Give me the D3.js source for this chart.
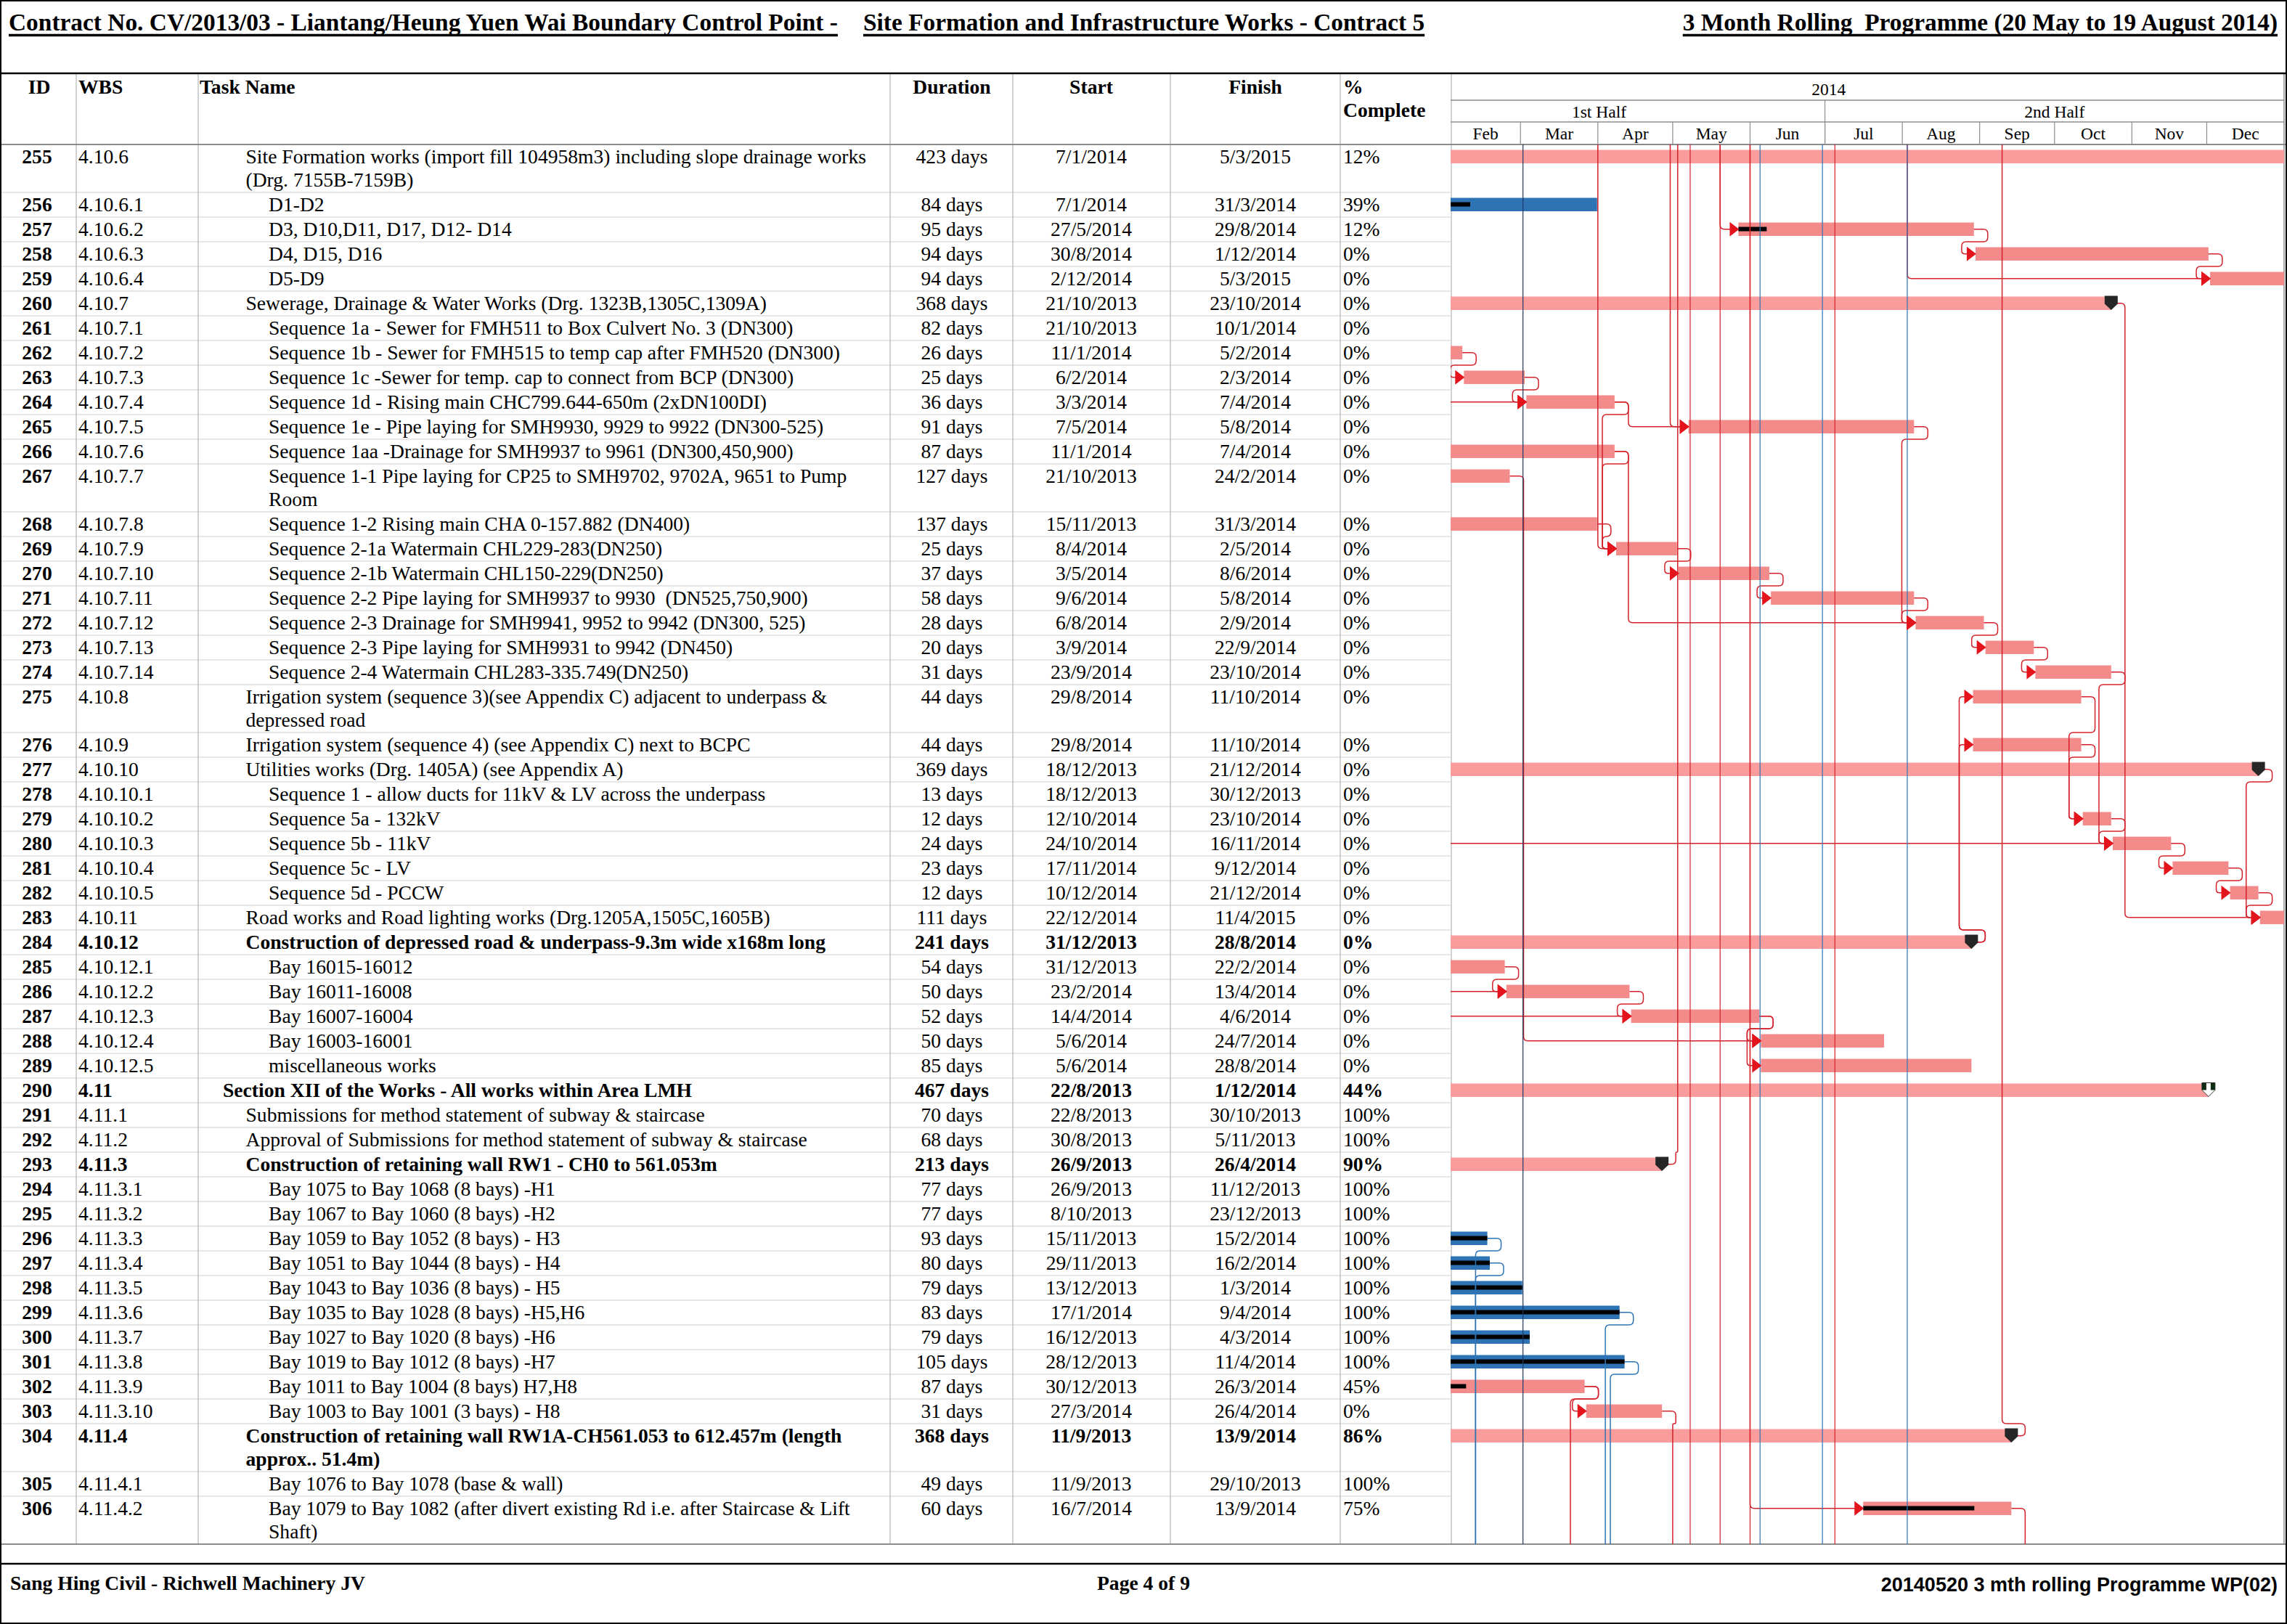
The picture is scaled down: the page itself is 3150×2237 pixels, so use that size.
<!DOCTYPE html>
<html>
<head>
<meta charset="utf-8">
<script src="https://cdn.jsdelivr.net/npm/d3@7"></script>
<style>
  body { margin: 0; background: #fff; }
  svg { display: block; }
  text { font-family: "Liberation Serif", "Times New Roman", serif; fill: #000; white-space: pre; }
</style>
</head>
<body>
<svg id="chart"></svg>
<script>
// ---- table data ----
const ids = [255,256,257,258,259,260,261,262,263,264,265,266,267,268,269,270,271,272,273,274,275,276,277,278,279,280,281,282,283,284,285,286,287,288,289,290,291,292,293,294,295,296,297,298,299,300,301,302,303,304,305,306]
const wbs = ['4.10.6','4.10.6.1','4.10.6.2','4.10.6.3','4.10.6.4','4.10.7','4.10.7.1','4.10.7.2','4.10.7.3','4.10.7.4','4.10.7.5','4.10.7.6','4.10.7.7','4.10.7.8','4.10.7.9','4.10.7.10','4.10.7.11','4.10.7.12','4.10.7.13','4.10.7.14','4.10.8','4.10.9','4.10.10','4.10.10.1','4.10.10.2','4.10.10.3','4.10.10.4','4.10.10.5','4.10.11','4.10.12','4.10.12.1','4.10.12.2','4.10.12.3','4.10.12.4','4.10.12.5','4.11','4.11.1','4.11.2','4.11.3','4.11.3.1','4.11.3.2','4.11.3.3','4.11.3.4','4.11.3.5','4.11.3.6','4.11.3.7','4.11.3.8','4.11.3.9','4.11.3.10','4.11.4','4.11.4.1','4.11.4.2']
const names = [
  'Site Formation works (import fill 104958m3) including slope drainage works\n(Drg. 7155B-7159B)',
  'D1-D2',
  'D3, D10,D11, D17, D12- D14',
  'D4, D15, D16',
  'D5-D9',
  'Sewerage, Drainage & Water Works (Drg. 1323B,1305C,1309A)',
  'Sequence 1a - Sewer for FMH511 to Box Culvert No. 3 (DN300)',
  'Sequence 1b - Sewer for FMH515 to temp cap after FMH520 (DN300)',
  'Sequence 1c -Sewer for temp. cap to connect from BCP (DN300)',
  'Sequence 1d - Rising main CHC799.644-650m (2xDN100DI)',
  'Sequence 1e - Pipe laying for SMH9930, 9929 to 9922 (DN300-525)',
  'Sequence 1aa -Drainage for SMH9937 to 9961 (DN300,450,900)',
  'Sequence 1-1 Pipe laying for CP25 to SMH9702, 9702A, 9651 to Pump\nRoom',
  'Sequence 1-2 Rising main CHA 0-157.882 (DN400)',
  'Sequence 2-1a Watermain CHL229-283(DN250)',
  'Sequence 2-1b Watermain CHL150-229(DN250)',
  'Sequence 2-2 Pipe laying for SMH9937 to 9930  (DN525,750,900)',
  'Sequence 2-3 Drainage for SMH9941, 9952 to 9942 (DN300, 525)',
  'Sequence 2-3 Pipe laying for SMH9931 to 9942 (DN450)',
  'Sequence 2-4 Watermain CHL283-335.749(DN250)',
  'Irrigation system (sequence 3)(see Appendix C) adjacent to underpass &\ndepressed road',
  'Irrigation system (sequence 4) (see Appendix C) next to BCPC',
  'Utilities works (Drg. 1405A) (see Appendix A)',
  'Sequence 1 - allow ducts for 11kV & LV across the underpass',
  'Sequence 5a - 132kV',
  'Sequence 5b - 11kV',
  'Sequence 5c - LV',
  'Sequence 5d - PCCW',
  'Road works and Road lighting works (Drg.1205A,1505C,1605B)',
  'Construction of depressed road & underpass-9.3m wide x168m long',
  'Bay 16015-16012',
  'Bay 16011-16008',
  'Bay 16007-16004',
  'Bay 16003-16001',
  'miscellaneous works',
  'Section XII of the Works - All works within Area LMH',
  'Submissions for method statement of subway & staircase',
  'Approval of Submissions for method statement of subway & staircase',
  'Construction of retaining wall RW1 - CH0 to 561.053m',
  'Bay 1075 to Bay 1068 (8 bays) -H1',
  'Bay 1067 to Bay 1060 (8 bays) -H2',
  'Bay 1059 to Bay 1052 (8 bays) - H3',
  'Bay 1051 to Bay 1044 (8 bays) - H4',
  'Bay 1043 to Bay 1036 (8 bays) - H5',
  'Bay 1035 to Bay 1028 (8 bays) -H5,H6',
  'Bay 1027 to Bay 1020 (8 bays) -H6',
  'Bay 1019 to Bay 1012 (8 bays) -H7',
  'Bay 1011 to Bay 1004 (8 bays) H7,H8',
  'Bay 1003 to Bay 1001 (3 bays) - H8',
  'Construction of retaining wall RW1A-CH561.053 to 612.457m (length\napprox.. 51.4m)',
  'Bay 1076 to Bay 1078 (base & wall)',
  'Bay 1079 to Bay 1082 (after divert existing Rd i.e. after Staircase & Lift\nShaft)'
]
const durations = [423,84,95,94,94,368,82,26,25,36,91,87,127,137,25,37,58,28,20,31,44,44,369,13,12,24,23,12,111,241,54,50,52,50,85,467,70,68,213,77,77,93,80,79,83,79,105,87,31,368,49,60]
const starts = ['7/1/2014','7/1/2014','27/5/2014','30/8/2014','2/12/2014','21/10/2013','21/10/2013','11/1/2014','6/2/2014','3/3/2014','7/5/2014','11/1/2014','21/10/2013','15/11/2013','8/4/2014','3/5/2014','9/6/2014','6/8/2014','3/9/2014','23/9/2014','29/8/2014','29/8/2014','18/12/2013','18/12/2013','12/10/2014','24/10/2014','17/11/2014','10/12/2014','22/12/2014','31/12/2013','31/12/2013','23/2/2014','14/4/2014','5/6/2014','5/6/2014','22/8/2013','22/8/2013','30/8/2013','26/9/2013','26/9/2013','8/10/2013','15/11/2013','29/11/2013','13/12/2013','17/1/2014','16/12/2013','28/12/2013','30/12/2013','27/3/2014','11/9/2013','11/9/2013','16/7/2014']
const finishes = ['5/3/2015','31/3/2014','29/8/2014','1/12/2014','5/3/2015','23/10/2014','10/1/2014','5/2/2014','2/3/2014','7/4/2014','5/8/2014','7/4/2014','24/2/2014','31/3/2014','2/5/2014','8/6/2014','5/8/2014','2/9/2014','22/9/2014','23/10/2014','11/10/2014','11/10/2014','21/12/2014','30/12/2013','23/10/2014','16/11/2014','9/12/2014','21/12/2014','11/4/2015','28/8/2014','22/2/2014','13/4/2014','4/6/2014','24/7/2014','28/8/2014','1/12/2014','30/10/2013','5/11/2013','26/4/2014','11/12/2013','23/12/2013','15/2/2014','16/2/2014','1/3/2014','9/4/2014','4/3/2014','11/4/2014','26/3/2014','26/4/2014','13/9/2014','29/10/2013','13/9/2014']
const pcts = [12,39,12,0,0,0,0,0,0,0,0,0,0,0,0,0,0,0,0,0,0,0,0,0,0,0,0,0,0,0,0,0,0,0,0,44,100,100,90,100,100,100,100,100,100,100,100,45,0,86,100,75]
const boldRows = [284,290,293,304]
const summaryRows = [255,260,277,284,290,293,304]
const blueRows = [256,294,295,296,297,298,299,300,301]

// ---- timescale labels ----
const yearLabel = '2014'
const halfLabels = ['1st Half','2nd Half']
const monthLabels = ['Feb','Mar','Apr','May','Jun','Jul','Aug','Sep','Oct','Nov','Dec']

// ---- dependency links ----
const links = [[257,258],[258,259],[260,283],[261,264],[262,263],[263,264],[264,265],[264,269],[266,269],[268,269],
  [266,272],[265,272],[269,270],[270,271],[271,272],[272,273],[273,274],[274,280],[275,279],[276,279],[278,280],
  [279,280],[280,281],[281,282],[282,283],[277,283],[284,275],[284,276],[285,286],[261,286],[286,287],[278,287],
  [287,288],[267,288],[287,289],[302,303]]
// links leaving the page: [predecessor, date of the vertical run, direction]
const offLinks = [[293,'2014-05-03','up'],[304,'2014-09-10','up'],[296,'2014-02-11','down'],[297,'2014-02-11','down'],
  [299,'2014-04-04','down'],[301,'2014-04-06','down'],[302,'2014-03-21','down'],[303,'2014-05-01','down'],[306,'2014-09-19','down']]
// links entering from earlier pages: [date of the vertical run, successor]
const inLinks = [['2014-04-01',269],['2014-04-30',265],['2014-05-20',257],['2014-06-01',306],['2014-08-03',259]]
// links crossing the whole page
const redThrough = ['2014-05-08','2014-05-20','2014-06-01','2014-07-05']
const blueThrough = ['2014-06-05','2014-06-30','2014-08-03']
const navyThrough = ['2014-03-02']

// ---- layout ----
const W = 3150, H = 2237
const HEAD_TOP = 101, HEAD_BOT = 199, LINE_H = 32
const GX0 = 1998, GX1 = 3146
const COLS = [105, 273, 1226, 1395, 1612, 1846, 1999]
const FS = 27.6
const PINK = '#f38b8b', PINK_SUM = '#fa9c9c', BLUE = '#2e74b5'
const RED_LINK = '#d3222b', ARROW = '#e3141c', BLUE_LINK = '#2e74b5', NAVY_LINK = '#1f3864'

const parse = d3.timeParse('%d/%m/%Y')
const iso = d3.timeParse('%Y-%m-%d')

const svg = d3.select('#chart').attr('width', W).attr('height', H)
svg.append('rect').attr('width', W).attr('height', H).attr('fill', '#fff')

// row geometry
const rows = ids.map((id, i) => ({ id, i, lines: names[i].split('\n') }))
let yy = HEAD_BOT
rows.forEach(r => { r.top = yy; r.h = 2 + LINE_H * r.lines.length; yy += r.h })
const TABLE_BOT = yy
const byId = new Map(rows.map(r => [r.id, r]))

const x = d3.scaleTime().domain([new Date(2014, 1, 1), new Date(2015, 0, 1)]).range([GX0, GX1])
const t0 = r => d3.timeHour.offset(parse(starts[r.i]), 8)
const t1 = r => d3.timeHour.offset(parse(finishes[r.i]), 17)
const xs = r => x(t0(r))
const xe = r => x(t1(r))
const mid = r => r.top + 16.75

// ---- title ----
function underlined(g, str, x0, anchorEnd) {
  const t = g.append('text').attr('y', 42).attr('font-size', 33.4).attr('font-weight', 'bold').text(str)
  const len = t.node().getComputedTextLength()
  const left = anchorEnd ? x0 - len : x0
  t.attr('x', left)
  g.append('line').attr('x1', left).attr('x2', left + len).attr('y1', 48.5).attr('y2', 48.5)
    .attr('stroke', '#000').attr('stroke-width', 3.5)
}
const title = svg.append('g')
underlined(title, 'Contract No. CV/2013/03 - Liantang/Heung Yuen Wai Boundary Control Point -', 12)
underlined(title, 'Site Formation and Infrastructure Works - Contract 5', 1189)
underlined(title, '3 Month Rolling  Programme (20 May to 19 August 2014)', 3137, true)

// ---- table grid ----
const grid = svg.append('g')
rows.forEach(r => {
  grid.append('line').attr('x1', 0).attr('x2', GX0).attr('y1', r.top + r.h).attr('y2', r.top + r.h)
    .attr('stroke', '#cfcfcf').attr('stroke-width', 1)
})
COLS.forEach(c => {
  grid.append('line').attr('x1', c).attr('x2', c).attr('y1', HEAD_TOP).attr('y2', TABLE_BOT)
    .attr('stroke', '#b4b4b4').attr('stroke-width', 1.2)
})
grid.append('line').attr('x1', 0).attr('x2', W).attr('y1', HEAD_BOT).attr('y2', HEAD_BOT).attr('stroke', '#8c8c8c').attr('stroke-width', 2)
grid.append('line').attr('x1', 0).attr('x2', W).attr('y1', TABLE_BOT).attr('y2', TABLE_BOT).attr('stroke', '#8c8c8c').attr('stroke-width', 2)
grid.append('line').attr('x1', GX1).attr('x2', GX1).attr('y1', HEAD_TOP).attr('y2', TABLE_BOT).attr('stroke', '#8c8c8c').attr('stroke-width', 1.5)
grid.append('line').attr('x1', 0).attr('x2', W).attr('y1', HEAD_TOP).attr('y2', HEAD_TOP).attr('stroke', '#000').attr('stroke-width', 2.5)

// ---- table header ----
const head = svg.append('g').attr('font-size', FS).attr('font-weight', 'bold')
const hdr = [['ID', 54, 'middle', 129], ['WBS', 108, 'start', 129], ['Task Name', 275, 'start', 129], ['Duration', 1311, 'middle', 129],
  ['Start', 1503, 'middle', 129], ['Finish', 1729, 'middle', 129], ['%', 1850, 'start', 129], ['Complete', 1850, 'start', 161]]
hdr.forEach(([t, hx, a, hy]) => head.append('text').attr('x', hx).attr('y', hy).attr('text-anchor', a).text(t))

// ---- table body ----
const body = svg.append('g').attr('font-size', FS)
rows.forEach(r => {
  const fw = boldRows.includes(r.id) ? 'bold' : 'normal'
  const base = r.top + 25.5
  body.append('text').attr('x', 51).attr('y', base).attr('text-anchor', 'middle').attr('font-weight', 'bold').text(r.id)
  body.append('text').attr('x', 108).attr('y', base).attr('font-weight', fw).text(wbs[r.i])
  const depth = wbs[r.i].split('.').length
  const nt = body.append('text').attr('y', base).attr('font-weight', fw)
  r.lines.forEach((ln, k) => nt.append('tspan').attr('x', 307 + 31.5 * (depth - 2)).attr('dy', k ? LINE_H : 0).text(ln))
  body.append('text').attr('x', 1311).attr('y', base).attr('text-anchor', 'middle').attr('font-weight', fw).text(durations[r.i] + ' days')
  body.append('text').attr('x', 1503).attr('y', base).attr('text-anchor', 'middle').attr('font-weight', fw).text(starts[r.i])
  body.append('text').attr('x', 1729).attr('y', base).attr('text-anchor', 'middle').attr('font-weight', fw).text(finishes[r.i])
  body.append('text').attr('x', 1850).attr('y', base).attr('font-weight', fw).text(pcts[r.i] + '%')
})

// ---- timescale header ----
const th = svg.append('g').attr('font-size', 23.5)
th.append('line').attr('x1', GX0).attr('x2', GX1).attr('y1', 138).attr('y2', 138).attr('stroke', '#8c8c8c').attr('stroke-width', 1.5)
th.append('line').attr('x1', GX0).attr('x2', GX1).attr('y1', 168).attr('y2', 168).attr('stroke', '#8c8c8c').attr('stroke-width', 1.5)
th.append('text').attr('x', (x(new Date(2014, 0, 1)) + x(new Date(2015, 0, 1))) / 2).attr('y', 131).attr('text-anchor', 'middle').text(yearLabel)
const halfStarts = [new Date(2014, 0, 1), new Date(2014, 6, 1)]
halfLabels.forEach((lab, k) => {
  const a = x(halfStarts[k]), b = x(d3.timeMonth.offset(halfStarts[k], 6))
  th.append('text').attr('x', (a + b) / 2).attr('y', 161.5).attr('text-anchor', 'middle').text(lab)
  if (k) th.append('line').attr('x1', a).attr('x2', a).attr('y1', 138).attr('y2', HEAD_BOT).attr('stroke', '#8c8c8c').attr('stroke-width', 1.2)
})
const months = d3.timeMonth.range(new Date(2014, 1, 1), new Date(2015, 0, 1))
months.forEach((m, k) => {
  const a = x(m), b = x(d3.timeMonth.offset(m, 1))
  th.append('text').attr('x', (a + b) / 2).attr('y', 191.5).attr('text-anchor', 'middle').text(monthLabels[k])
  if (k) th.append('line').attr('x1', a).attr('x2', a).attr('y1', 168).attr('y2', HEAD_BOT).attr('stroke', '#8c8c8c').attr('stroke-width', 1.2)
})

// ---- gantt body ----
svg.append('clipPath').attr('id', 'gclip').append('rect')
  .attr('x', GX0).attr('y', HEAD_BOT).attr('width', GX1 - GX0).attr('height', TABLE_BOT - HEAD_BOT)
const gantt = svg.append('g').attr('clip-path', 'url(#gclip)')
const barLayer = gantt.append('g'), lineLayer = gantt.append('g'), markLayer = gantt.append('g')

rows.forEach(r => {
  const a = xs(r), b = xe(r)
  const isSum = summaryRows.includes(r.id)
  const fill = blueRows.includes(r.id) ? BLUE : (isSum ? PINK_SUM : PINK)
  barLayer.append('rect').attr('x', a).attr('y', r.top + 7.5).attr('width', Math.max(0, b - a)).attr('height', 18.5).attr('fill', fill)
  if (!isSum && pcts[r.i] > 0) {
    const p = x(new Date(+t0(r) + (pcts[r.i] / 100) * (t1(r) - t0(r))))
    barLayer.append('rect').attr('x', a).attr('y', r.top + 13.5).attr('width', p - a).attr('height', 6).attr('fill', '#000')
  }
})

function rounded(pts, rad) {
  const p = pts.filter((q, k) => k === 0 || q[0] !== pts[k - 1][0] || q[1] !== pts[k - 1][1])
  let d = `M${p[0][0]},${p[0][1]}`
  for (let k = 1; k < p.length - 1; k++) {
    const [x0, y0] = p[k - 1], [x1, y1] = p[k], [x2, y2] = p[k + 1]
    const l1 = Math.hypot(x1 - x0, y1 - y0), l2 = Math.hypot(x2 - x1, y2 - y1)
    const rr = Math.min(rad, l1 / 2, l2 / 2)
    d += `L${x1 - (x1 - x0) / l1 * rr},${y1 - (y1 - y0) / l1 * rr}Q${x1},${y1} ${x1 + (x2 - x1) / l2 * rr},${y1 + (y2 - y1) / l2 * rr}`
  }
  const e = p[p.length - 1]
  return d + `L${e[0]},${e[1]}`
}
const G = 19
function drawPath(pts, color) {
  lineLayer.append('path').attr('d', rounded(pts, 6)).attr('fill', 'none').attr('stroke', color).attr('stroke-width', 1.5)
}
function arrow(r) {
  const a = xs(r), m = mid(r)
  markLayer.append('path').attr('d', `M${a - 12},${m - 10}L${a + 1},${m}L${a - 12},${m + 10}Z`).attr('fill', ARROW)
}
const linkColor = r => blueRows.includes(r.id) ? BLUE_LINK : RED_LINK

links.forEach(([pId, sId]) => {
  const p = byId.get(pId), s = byId.get(sId)
  const x1 = xe(p), y1 = mid(p), x2 = xs(s), y2 = mid(s)
  const col = linkColor(p)
  if (x1 + G <= x2 - G) {
    drawPath([[x1, y1], [x1 + G, y1], [x1 + G, y2], [x2 - 10, y2]], col)
  } else {
    const yb = y2 > y1 ? p.top + p.h : p.top
    drawPath([[x1, y1], [x1 + G, y1], [x1 + G, yb], [x2 - G, yb], [x2 - G, y2], [x2 - 10, y2]], col)
  }
  arrow(s)
})
offLinks.forEach(([pId, d, dir]) => {
  const p = byId.get(pId)
  const x1 = xe(p), y1 = mid(p), xd = x(iso(d))
  const yb = dir === 'down' ? p.top + p.h : p.top
  const edge = dir === 'down' ? TABLE_BOT : HEAD_BOT
  drawPath([[x1, y1], [x1 + G, y1], [x1 + G, yb], [xd, yb], [xd, edge]], linkColor(p))
})
inLinks.forEach(([d, sId]) => {
  const s = byId.get(sId)
  const xd = x(iso(d))
  drawPath([[xd, HEAD_BOT], [xd, mid(s)], [xs(s) - 10, mid(s)]], RED_LINK)
  arrow(s)
})
const through = (list, color) => list.forEach(d => {
  lineLayer.append('line').attr('x1', x(iso(d))).attr('x2', x(iso(d))).attr('y1', HEAD_BOT).attr('y2', TABLE_BOT)
    .attr('stroke', color).attr('stroke-width', 1.2)
})
through(redThrough, RED_LINK)
through(blueThrough, BLUE_LINK)
through(navyThrough, NAVY_LINK)

// summary end markers
rows.filter(r => summaryRows.includes(r.id)).forEach(r => {
  const e = xe(r), t = r.top + 6.5
  if (r.id === 290) {
    markLayer.append('path').attr('d', `M${e - 9},${t}H${e + 9}V${t + 10}L${e},${t + 19}L${e - 9},${t + 10}Z`)
      .attr('fill', '#fff').attr('stroke', '#333').attr('stroke-width', 1)
    markLayer.append('rect').attr('x', e - 9).attr('y', t).attr('width', 6).attr('height', 10).attr('fill', '#0f2a12')
    markLayer.append('rect').attr('x', e + 3).attr('y', t).attr('width', 6).attr('height', 10).attr('fill', '#0f2a12')
  } else {
    markLayer.append('path').attr('d', `M${e - 9},${t}H${e + 9}V${t + 11}L${e},${t + 19.5}L${e - 9},${t + 11}Z`).attr('fill', '#262626')
  }
})

// ---- footer ----
svg.append('line').attr('x1', 0).attr('x2', W).attr('y1', 2154).attr('y2', 2154).attr('stroke', '#000').attr('stroke-width', 2.5)
const foot = svg.append('g').attr('font-size', FS).attr('font-weight', 'bold')
foot.append('text').attr('x', 14).attr('y', 2190).text('Sang Hing Civil - Richwell Machinery JV')
foot.append('text').attr('x', 1575).attr('y', 2190).attr('text-anchor', 'middle').text('Page 4 of 9')
foot.append('text').attr('x', 3137).attr('y', 2192).attr('text-anchor', 'end')
  .style('font-family', '"Liberation Sans Narrow", "Liberation Sans", sans-serif').attr('font-size', 27)
  .text('20140520 3 mth rolling Programme WP(02)')

svg.append('rect').attr('x', 1).attr('y', 1).attr('width', W - 2).attr('height', H - 2)
  .attr('fill', 'none').attr('stroke', '#000').attr('stroke-width', 2)
</script>
</body>
</html>
